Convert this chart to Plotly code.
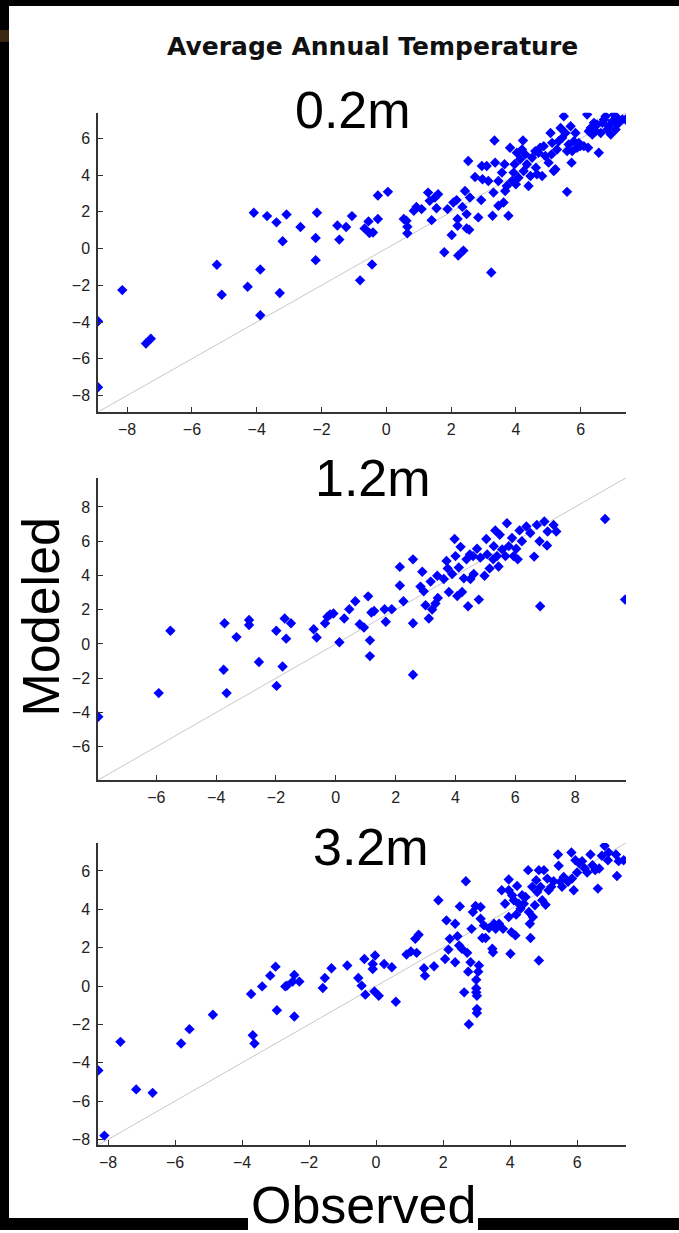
import plotly.graph_objects as go

W, H = 679, 1233

title_text = "Average Annual Temperature"
depth_labels = ["0.2m", "1.2m", "3.2m"]
x_label = "Observed"
y_label = "Modeled"

# ---- 0.2 m ----
obs_02 = [-8.9, -8.9, -8.15, -7.42, -7.27, -5.23, -5.08, -4.09, -4.28, -3.89, -3.89, -3.68, -3.39, -3.08, -3.2, -3.29,
          -2.65, -2.14, -2.18, -2.18, -1.51, -1.24, -1.45, -1.06, -0.81,
          -0.67, -0.55, -0.52, -0.41, -0.44, -0.26, -0.26, 0.05, 0.54, 0.62, 0.65, 0.65, 0.85, 0.93, 1.09, 1.29, 1.34,
          1.40, 1.50, 1.55, 1.60, 1.79, 1.89, 2.02, 2.07, 2.17, 2.20, 2.22, 2.20, 2.35, 2.38, 2.48, 2.43, 2.48, 2.56,
          2.58, 2.53, 2.74, 2.84, 2.93, 2.95, 2.97, 3.10, 3.15, 3.24, 3.28, 3.31, 3.34, 3.36, 3.46, 3.46, 3.57, 3.62,
          3.65, 3.67, 3.72, 3.77, 3.82, 3.88, 3.93, 3.96, 4.00, 4.03, 4.08, 4.13, 4.19, 4.22, 4.24, 4.29, 4.34, 4.39,
          4.45, 4.50, 4.60, 4.62, 4.65, 4.70, 4.75, 4.81, 4.86, 4.91, 5.01, 5.07, 5.12, 5.10, 5.17, 5.22, 5.27, 5.32,
          5.38, 5.43, 5.48, 5.53, 5.58, 5.58, 5.63, 5.69, 5.72, 5.74, 5.79, 5.84, 5.89, 5.94, 5.99, 6.10, 6.20, 6.23,
          6.25, 6.31, 6.36, 6.41, 6.46, 6.51, 6.56, 6.62, 6.67, 6.72, 6.77, 6.82, 6.87, 6.93, 6.98, 7.03, 7.08, 7.13,
          7.18, 7.29, 7.39]
mod_02 = [-3.96, -7.55, -2.26, -5.17, -4.91, -0.88, -2.51, 1.95, -2.08, -1.14, -3.63, 1.77, 1.43, 1.86, 0.40, -2.42,
          1.18, 1.95, 0.58, -0.63, 1.26, 1.18, 0.49, 1.77, -1.73,
          1.10, 1.48, 0.85, 0.88, -0.87, 2.89, 1.61, 3.09, 1.61, 1.52, 1.19, 0.83, 2.06, 2.27, 2.15, 3.05, 2.60,
          1.55, 2.78, 2.20, 2.96, -0.20, 2.15, 0.74, 2.51, 2.64, 1.61, -0.38, 1.24, 2.27, -0.11, 1.88, 3.14, 1.10, 1.03,
          2.78, 4.77, 3.90, 1.70, 2.64, 4.50, 3.78, 4.50, 3.68, -1.30, 1.79, 3.05, 5.89, 4.68, 2.33, 3.68, 4.14, 2.51,
          4.59, 3.14, 3.41, 1.79, 5.49, 3.68, 4.14, 4.59, 3.50, 5.22, 3.86, 4.86, 5.40, 5.89, 4.23, 5.13, 4.59, 3.41,
          3.95, 4.95, 5.31, 4.41, 4.05, 5.22, 5.49, 3.95, 5.58, 5.04, 4.68, 6.30, 5.76, 5.13, 4.23, 4.32, 5.40, 5.85,
          6.57, 6.03, 7.21, 6.30, 3.09, 5.31, 5.67, 6.66, 4.68, 5.31, 5.85, 6.30, 5.49, 5.76, 5.58, 5.58, 7.30, 5.49,
          6.39, 6.57, 6.21, 6.85, 6.39, 6.76, 5.22, 6.30, 6.85, 7.03, 7.21, 6.48, 6.66, 6.21, 6.94, 7.30, 6.48, 6.76,
          7.03, 7.03, 7.03]

# ---- 1.2 m ----
obs_12 = [-7.94, -5.92, -5.53, -3.75, -3.72, -3.65, -3.32, -2.90, -2.90, -2.57, -1.99, -1.98, -1.78, -1.71, -1.66,
          -1.50, -0.74, -0.64, -0.36, -0.28, -0.19, -0.08, 0.12, 0.28, 0.45, 0.65, 0.80,
          0.94, 1.08, 1.14, 1.14, 1.19, 1.28, 1.63, 1.67, 1.87, 2.14, 2.14, 2.26, 2.58, 2.58, 2.58, 2.89, 2.83, 2.94,
          3.00, 3.11, 3.17, 3.22, 3.33, 3.39, 3.41, 3.61, 3.70, 3.74, 3.78, 3.89, 3.97, 4.00, 4.06, 4.11, 4.17, 4.22,
          4.28, 4.37, 4.42, 4.48, 4.50, 4.59, 4.61, 4.72, 4.78, 4.83, 4.97, 5.03, 5.06, 5.14, 5.26, 5.28, 5.33, 5.39,
          5.44, 5.48, 5.56, 5.67, 5.72, 5.78, 5.89, 5.94, 6.03, 6.08, 6.14, 6.22, 6.37, 6.50, 6.63, 6.72, 6.81, 6.83,
          6.97, 7.06, 7.08, 7.28, 7.37, 9.00, 9.67]
mod_12 = [-4.25, -2.87, 0.77, -1.51, 1.21, -2.87, 0.40, 1.40, 1.11, -1.05, 0.77, -2.45, -1.32, 1.49, 0.31,
          1.21, 0.86, 0.38, 1.21, 1.59, 1.72, 1.78, 0.10, 1.49, 2.03, 2.49, 1.15,
          0.96, 2.78, 0.21, -0.71, 1.84, 1.92, 2.03, 1.30, 2.03, 4.50, 3.41, 2.49, 4.94, 1.21, -1.80, 4.22, 3.35, 3.07,
          2.26, 1.49, 3.64, 2.01, 2.36, 3.98, 2.68, 3.79, 4.85, 4.41, 3.03, 4.08, 6.13, 5.13, 2.80, 4.46, 5.67, 3.03,
          3.83, 4.94, 2.20, 5.23, 3.79, 5.13, 4.08, 5.56, 2.59, 5.04, 3.98, 6.13, 5.23, 4.41, 4.94, 5.71, 6.63, 5.13,
          4.52, 6.38, 5.52, 5.13, 7.05, 5.71, 6.19, 5.13, 5.56, 4.94, 6.63, 6.00, 6.86, 6.48, 5.10, 6.95, 6.00, 2.20,
          7.15, 5.75, 6.57, 6.95, 6.57, 7.30, 2.59]

# ---- 3.2 m ----
obs_32 = [-8.29, -8.11, -7.63, -7.16, -6.67, -5.82, -5.57, -4.87, -3.73, -3.68, -3.63, -3.40, -3.16, -3.00, -2.96,
          -2.71, -2.66, -2.49, -2.44, -2.44, -2.29, -1.59, -1.53, -1.33, -0.86, -0.53,
          -0.43, -0.35, -0.32, -0.10, -0.10, -0.03, -0.05, 0.08, 0.24, 0.47, 0.59, 0.91, 1.04, 1.21, 1.17, 1.27, 1.46,
          1.43, 1.73, 1.86, 2.06, 2.10, 2.16, 2.20, 2.36, 2.36, 2.43, 2.48, 2.50, 2.56, 2.63, 2.68, 2.72, 2.75, 2.77,
          2.82, 2.85, 2.89, 2.97, 2.99, 2.99, 2.99, 3.01, 3.01, 3.01, 3.05, 3.07, 3.12, 3.12, 3.17, 3.22, 3.27, 3.37,
          3.47, 3.49, 3.52, 3.57, 3.67, 3.75, 3.79, 3.85, 3.96, 3.96, 3.96, 4.01, 4.04, 4.06, 4.11, 4.16, 4.21, 4.18,
          4.26, 4.31, 4.36, 4.41, 4.46, 4.54, 4.56, 4.59, 4.61, 4.66, 4.68, 4.74, 4.78, 4.81, 4.86, 4.86, 4.91, 4.96,
          5.01, 5.06, 5.11, 5.15, 5.23, 5.30, 5.43, 5.45, 5.50, 5.55, 5.60, 5.73, 5.83, 5.85, 5.90, 5.95, 6.00, 6.07,
          6.15, 6.23, 6.30, 6.40, 6.46, 6.54, 6.62, 6.66, 6.74, 6.82, 6.92, 6.94, 7.16, 7.19, 7.24, 7.39]
mod_32 = [-4.40, -7.80, -2.91, -5.39, -5.57, -3.00, -2.25, -1.50, -0.42, -2.57, -3.00, -0.02, 0.54, 1.01, -1.26,
          -0.02, 0.02, 0.23, 0.58, -1.59, 0.23, -0.10, 0.42, 0.93, 1.07, 0.42,
          0.02, 1.41, -0.45, 1.15, 0.89, 1.59, -0.28, -0.51, 1.15, 0.98, -0.82, 1.64, 1.80, 1.73, 2.46, 2.67, 0.54,
          0.93, 1.03, 4.47, 1.41, 3.42, 1.90, 2.46, 3.25, 1.24, 2.60, 2.11, 4.15, 1.94, -0.33, 5.46, 1.73, 0.75, -1.99,
          1.24, 2.98, 3.86, 4.17, 0.33, -0.12, -0.33, -0.51, -1.20, -1.41, 0.75, 1.07, 4.12, 3.51, 2.50, 3.16, 2.50, 3.02,
          1.94, 1.76, 3.25, 2.98, 3.25, 4.99, 2.98, 4.29, 5.55, 4.99, 3.60, 1.68, 2.81, 4.73, 4.47, 2.64, 5.22, 3.72,
          4.29, 4.03, 4.73, 4.29, 4.64, 6.04, 3.86, 3.25, 2.50, 5.17, 3.60, 4.21, 5.52, 4.90, 6.04, 1.33, 5.17, 4.47,
          6.04, 4.24, 5.60, 4.99, 5.17, 5.46, 6.86, 6.27, 5.43, 5.17, 5.69, 5.43, 6.96, 5.60, 4.99, 6.56, 5.92, 6.39,
          6.51, 6.13, 5.92, 6.86, 6.30, 6.04, 5.08, 6.13, 6.79, 7.31, 6.56, 6.96, 6.86, 5.74, 6.51, 6.56]

axis_ranges = [[-8.9, 7.4], [-7.95, 9.7], [-8.3, 7.46]]
x_ticks = [[-8, -6, -4, -2, 0, 2, 4, 6], [-6, -4, -2, 0, 2, 4, 6, 8], [-8, -6, -4, -2, 0, 2, 4, 6]]
y_ticks = [[-8, -6, -4, -2, 0, 2, 4, 6], [-6, -4, -2, 0, 2, 4, 6, 8], [-8, -6, -4, -2, 0, 2, 4, 6]]

series = [(obs_02, mod_02), (obs_12, mod_12), (obs_32, mod_32)]

# layout geometry (pixels)
x_left, x_right = 98, 626
panels_px = [(113, 413), (479, 782), (845, 1148)]


def py(v):
    return 1 - v / H


fig = go.Figure()
layout = dict(
    width=W, height=H,
    margin=dict(l=0, r=0, t=0, b=0),
    paper_bgcolor="white", plot_bgcolor="rgba(0,0,0,0)",
    showlegend=False,
    font=dict(family="Liberation Sans, Arial, sans-serif", color="#222222"),
)

for i, ((ox, my), rng, (top, bot)) in enumerate(zip(series, axis_ranges, panels_px)):
    n = "" if i == 0 else str(i + 1)
    xa, ya = "x" + n, "y" + n
    fig.add_trace(go.Scatter(x=rng, y=rng, mode="lines", xaxis=xa, yaxis=ya,
                             line=dict(color="#c8c8c8", width=1), hoverinfo="skip"))
    fig.add_trace(go.Scatter(x=ox, y=my, mode="markers", xaxis=xa, yaxis=ya,
                             marker=dict(symbol="diamond", size=8, color="#0000ff", line=dict(width=0))))
    common = dict(showgrid=False, zeroline=False, showline=True, linecolor="#333333", linewidth=1.5,
                  ticks="inside", ticklen=5, tickwidth=1, tickcolor="#333333", mirror=False,
                  tickfont=dict(size=16, color="#222222"), range=rng)
    layout["xaxis" + n] = dict(common, domain=[x_left / W, x_right / W], anchor=ya,
                               tickvals=x_ticks[i], ticklabelstandoff=2)
    layout["yaxis" + n] = dict(common, domain=[py(bot), py(top)], anchor=xa,
                               tickvals=y_ticks[i], ticklabelstandoff=3)

fig.update_layout(**layout)

# black frame around the white figure panel
black = "black"
shapes = [
    dict(type="rect", xref="paper", yref="paper", x0=0, x1=1, y0=py(6), y1=1, fillcolor=black, line_width=0),
    dict(type="rect", xref="paper", yref="paper", x0=0, x1=9 / W, y0=0, y1=1, fillcolor=black, line_width=0),
    dict(type="rect", xref="paper", yref="paper", x0=0, x1=248 / W, y0=0, y1=py(1221), fillcolor=black, line_width=0),
    dict(type="rect", xref="paper", yref="paper", x0=478 / W, x1=1, y0=0, y1=py(1221), fillcolor=black, line_width=0),
    dict(type="rect", xref="paper", yref="paper", x0=0, x1=9 / W, y0=py(42), y1=py(30), fillcolor="#3a2812", line_width=0),
]
fig.update_layout(shapes=shapes)

annotations = [
    dict(text="<b>" + title_text + "</b>", x=372 / W, y=py(47), xref="paper", yref="paper", showarrow=False,
         xanchor="center", yanchor="middle", font=dict(family="DejaVu Sans", size=25, color="#111111")),
    dict(text=depth_labels[0], x=353 / W, y=py(110), xref="paper", yref="paper", showarrow=False,
         xanchor="center", yanchor="middle", font=dict(family="Liberation Sans", size=52, color="black")),
    dict(text=depth_labels[1], x=373 / W, y=py(479), xref="paper", yref="paper", showarrow=False,
         xanchor="center", yanchor="middle", font=dict(family="Liberation Sans", size=52, color="black")),
    dict(text=depth_labels[2], x=371 / W, y=py(849), xref="paper", yref="paper", showarrow=False,
         xanchor="center", yanchor="middle", font=dict(family="Liberation Sans", size=52, color="black")),
    dict(text=y_label, x=41 / W, y=py(619), xref="paper", yref="paper", showarrow=False, textangle=-90,
         xanchor="center", yanchor="middle", font=dict(family="Liberation Sans", size=52, color="black")),
    dict(text=x_label, x=363 / W, y=py(1208), xref="paper", yref="paper", showarrow=False,
         xanchor="center", yanchor="middle", font=dict(family="Liberation Sans", size=52, color="black")),
]
fig.update_layout(annotations=annotations)

fig.write_html("out.html", config={"displayModeBar": False},
               post_script="document.body.style.margin='0';document.body.style.overflow='hidden';")
